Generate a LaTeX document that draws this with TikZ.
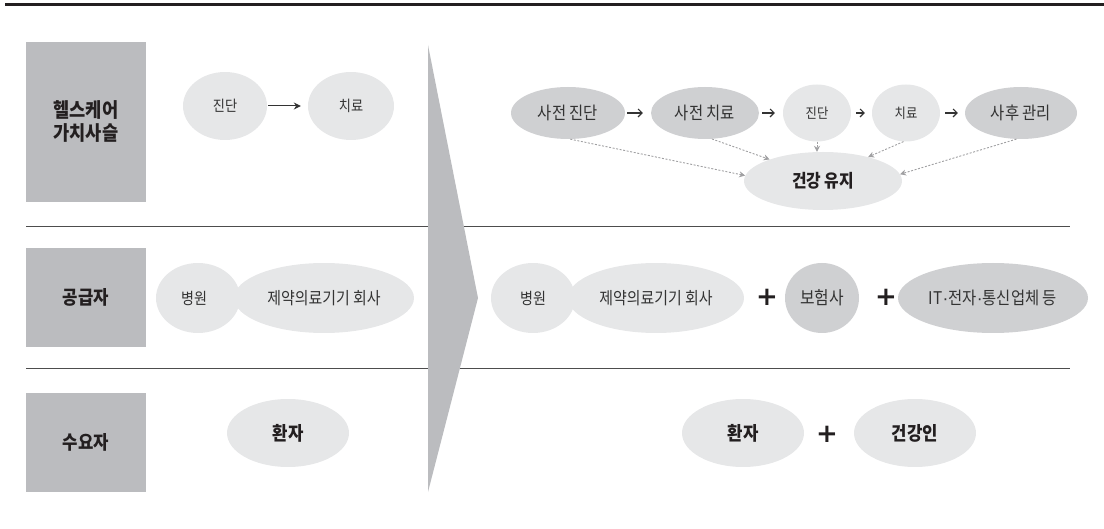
\documentclass[tikz,border=0pt]{standalone}
\usepackage{fontspec}
\setmainfont{Noto Sans CJK KR}[FakeStretch=0.88]
\newfontfamily\plusfont{DejaVu Sans Bold}
\newfontfamily\dotfont{Liberation Sans}
\usetikzlibrary{shapes.geometric,arrows.meta}
\definecolor{boxgray}{HTML}{BBBCBF}
\definecolor{lightell}{HTML}{E6E7E8}
\definecolor{darkell}{HTML}{CFD0D2}
\definecolor{txt}{HTML}{333333}
\definecolor{ink}{HTML}{231F20}
\definecolor{rulec}{HTML}{4D4D4D}
\definecolor{dashc}{HTML}{A0A0A2}
\newcommand{\fs}[1]{\fontsize{#1}{#1}\selectfont}
\newcommand{\mdot}{{\dotfont ·}}
\tikzset{
  ell/.style={ellipse, inner sep=0pt, text=txt},
  light/.style={ell, fill=lightell},
  darke/.style={ell, fill=darkell},
  lbl/.style={fill=boxgray, inner sep=0pt, minimum width=120pt, text=ink, align=center},
  flow/.style={-{Straight Barb[length=4pt,width=8pt]}, draw=txt, line width=1.1pt},
  dsh/.style={draw=dashc, line width=0.9pt, dash pattern=on 2pt off 1.6pt, -{Stealth[length=6pt,width=6pt]}},
  plus/.style={inner sep=0pt, text=ink, font=\plusfont\fs{26}},
}
\begin{document}
\begin{tikzpicture}[x=1pt,y=-1pt]
\useasboundingbox (0,0) rectangle (1104,529);
% top bar
\fill[ink] (5,3.2) rectangle (1104,6.4);
% separator rules
\draw[rulec, line width=1pt] (26,227) -- (1070,227);
\draw[rulec, line width=1pt] (26,369) -- (1070,369);
% chevron
\fill[boxgray] (428,45) -- (478,298) -- (428,492) -- cycle;

% row labels
\node[lbl, minimum height=160pt, font=\bfseries\fs{20}] (b1) at (86,122) {헬스케어\\[3pt]가치사슬};
\node[lbl, minimum height=99pt, font=\bfseries\fs{19}] (b2) at (86,297.5) {공급자};
\node[lbl, minimum height=99pt, font=\bfseries\fs{19}] (b3) at (86,442.5) {수요자};

% row 1 left
\node[light, minimum width=84pt, minimum height=68pt, font=\fs{15}] (jd1) at (225,106) {진단};
\node[light, minimum width=86pt, minimum height=68pt, font=\fs{15}] (cr1) at (351,106) {치료};
\draw[draw=txt, line width=1pt, -{Stealth[length=7pt,width=7pt]}, shorten <=1pt, shorten >=7pt] (jd1.east) -- (cr1.west);

% row 1 right
\node[darke, minimum width=114pt, minimum height=52pt, font=\fs{17.5}] (pd) at (568,113) {사전 진단};
\node[darke, minimum width=108pt, minimum height=52pt, font=\fs{17.5}] (pt) at (705,113) {사전 치료};
\node[light, minimum width=68pt, minimum height=57pt, font=\fs{14}] (jd2) at (817,113) {진단};
\node[light, minimum width=68pt, minimum height=57pt, font=\fs{14}] (cr2) at (906,113) {치료};
\node[darke, minimum width=112pt, minimum height=52pt, font=\fs{17.5}] (sh) at (1021,113) {사후 관리};
\node[light, minimum width=158pt, minimum height=58pt, font=\bfseries\fs{18}, text=ink] (hm) at (823,181) {건강 유지};

\draw[flow, shorten <=2pt, shorten >=8pt] (pd.east) -- (pt.west);
\draw[flow, shorten <=3pt, shorten >=8pt] (pt.east) -- (jd2.west);
\draw[flow, shorten <=5pt, shorten >=7pt] (jd2.east) -- (cr2.west);
\draw[flow, shorten <=5pt, shorten >=7pt] (cr2.east) -- (sh.west);

\draw[dsh] (pd.-85) -- (hm.176);
\draw[dsh] (pt.-75) -- (hm.158);
\draw[dsh] (jd2.south) -- (jd2.south |- hm.north);
\draw[dsh] (cr2.-95) -- (hm.28);
\draw[dsh] (sh.-100) -- (hm.5);

% row 2 left
\node[light, minimum width=180pt, minimum height=70pt, font=\fs{17}] (jy1) at (324,298) {제약의료기기 회사};
\node[light, minimum width=84pt, minimum height=70pt, font=\fs{16}] (bw1) at (198,298) {\hspace*{-8pt}병원};

% row 2 right
\node[light, minimum width=176pt, minimum height=70pt, font=\fs{17}] (jy2) at (656,298) {제약의료기기 회사};
\node[light, minimum width=84pt, minimum height=70pt, font=\fs{16}] (bw2) at (533,298) {병원};
\node[plus] (p1) at (767,297) {+};
\node[darke, minimum width=74pt, minimum height=70pt, font=\fs{18}] (bh) at (822,298) {보험사};
\node[plus] (p2) at (886,297) {+};
\node[darke, minimum width=190pt, minimum height=70pt, font=\fs{17.5}] (it) at (993,298) {IT\mdot 전자\mdot 통신업체 등};

% row 3
\node[light, minimum width=122pt, minimum height=68pt, font=\bfseries\fs{19}, text=ink] (hj1) at (288,433) {환자};
\node[light, minimum width=122pt, minimum height=68pt, font=\bfseries\fs{19}, text=ink] (hj2) at (743,433) {환자};
\node[plus] (p3) at (827,434) {+};
\node[light, minimum width=122pt, minimum height=68pt, font=\bfseries\fs{19}, text=ink] (gi) at (915,433) {건강인};
\end{tikzpicture}
\end{document}
